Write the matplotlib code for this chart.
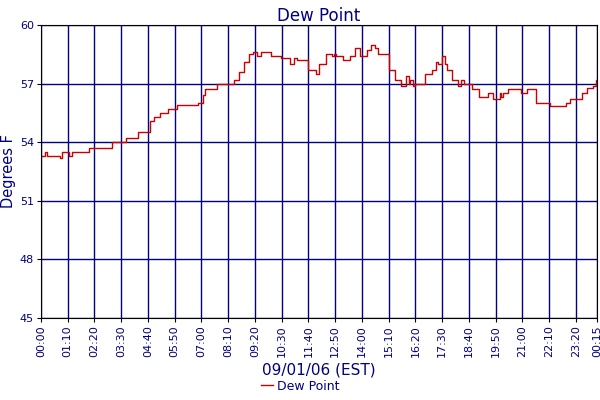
import matplotlib
matplotlib.use("Agg")
import matplotlib.pyplot as plt

minutes = [0, 11, 16, 49, 54, 73, 82, 126, 187, 223, 255, 284, 297, 311, 333, 355, 412, 425, 429, 460,
           504, 517, 531, 544, 555, 564, 575, 592, 601, 610, 627, 652, 663, 671, 698, 720, 727, 746,
           761, 766, 773, 790, 808, 822, 834, 852, 863, 874, 883, 911, 927, 943, 955, 962, 966, 973,
           980, 1006, 1024, 1033, 1040, 1050, 1057, 1063, 1076, 1085, 1092, 1098, 1107, 1129, 1147,
           1171, 1182, 1200, 1204, 1210, 1222, 1257, 1272, 1296, 1331, 1375, 1384, 1415, 1428, 1444,
           1453, 1455]
dew = [53.3, 53.5, 53.3, 53.2, 53.5, 53.3, 53.5, 53.7, 54.0, 54.2, 54.5, 55.1, 55.3, 55.5, 55.7, 55.9,
       56.0, 56.4, 56.7, 57.0, 57.2, 57.6, 58.1, 58.5, 58.6, 58.4, 58.6, 58.6, 58.4, 58.4, 58.3, 58.0,
       58.3, 58.2, 57.7, 57.5, 58.0, 58.5, 58.4, 58.5, 58.4, 58.2, 58.4, 58.8, 58.4, 58.7, 59.0, 58.8,
       58.5, 57.7, 57.2, 56.9, 57.4, 57.0, 57.2, 56.9, 57.0, 57.5, 57.7, 58.1, 58.0, 58.4, 58.0, 57.7,
       57.2, 57.2, 56.9, 57.2, 57.0, 56.7, 56.3, 56.5, 56.2, 56.5, 56.3, 56.5, 56.7, 56.5, 56.7, 56.0,
       55.85, 56.0, 56.2, 56.5, 56.8, 56.9, 57.2, 57.2]
xtick_labels = ["00:00", "01:10", "02:20", "03:30", "04:40", "05:50", "07:00", "08:10", "09:20", "10:30",
                "11:40", "12:50", "14:00", "15:10", "16:20", "17:30", "18:40", "19:50", "21:00", "22:10",
                "23:20", "00:15"]
xtick_pos = [i * 70 for i in range(21)] + [1455]
yticks = [45, 48, 51, 54, 57, 60]

navy = "#000080"
fig = plt.figure(figsize=(6, 4), dpi=100)
ax = fig.add_axes([41/600, 82/400, 556/600, 293/400])
ax.step(minutes, dew, where="post", color="#cc0000", lw=1, label="Dew Point")
ax.set_xlim(0, 1455)
ax.set_ylim(45, 60)
ax.set_xticks(xtick_pos)
ax.set_xticklabels(xtick_labels, rotation=90, fontsize=8, color=navy)
ax.set_yticks(yticks)
ax.set_yticklabels([str(v) for v in yticks], fontsize=8, color=navy)
ax.tick_params(length=3, pad=2)
ax.grid(True, color=navy, lw=1)
for s in ax.spines.values():
    s.set_color("black")
ax.set_title("Dew Point", color=navy, fontsize=12, pad=3)
ax.set_ylabel("Degrees F", color=navy, fontsize=10.5, labelpad=3)
ax.set_xlabel("09/01/06 (EST)", color=navy, fontsize=11, labelpad=4)
leg = fig.legend(loc="lower center", bbox_to_anchor=(0.5, -0.01), frameon=False, fontsize=9,
                 handlelength=1, handletextpad=0.3)
for t in leg.get_texts():
    t.set_color(navy)
fig.savefig("out.png", dpi=100, facecolor="white")
